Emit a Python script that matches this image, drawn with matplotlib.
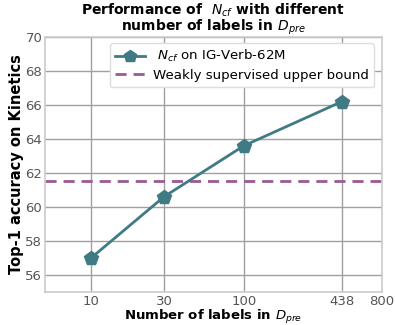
import matplotlib
matplotlib.use("Agg")
import matplotlib.pyplot as plt

num_labels = [10, 30, 100, 438]
acc_ncf = [57.0, 60.6, 63.6, 66.2]
upper_bound = 61.5
xticks = [10, 30, 100, 438, 800]
yticks = [56, 58, 60, 62, 64, 66, 68, 70]

fig = plt.figure(figsize=(3.95, 3.25), dpi=100)
ax = fig.add_axes([0.114, 0.1015, 0.853, 0.785])

ax.plot(num_labels, acc_ncf, color="#3f7a85", lw=2, marker="p", ms=10,
        label=r" $N_{cf}$ on IG-Verb-62M", zorder=3)
ax.axhline(upper_bound, color="#9b5a94", lw=2, ls=(0, (4, 2.5)),
           label="Weakly supervised upper bound", zorder=2)

ax.set_xscale("log")
ax.set_xlim(5, 800)
ax.set_ylim(55, 70)
ax.set_xticks(xticks)
ax.set_xticklabels([str(t) for t in xticks])
ax.xaxis.set_minor_locator(matplotlib.ticker.NullLocator())
ax.set_yticks(yticks)
ax.tick_params(axis="both", labelsize=9.5, labelcolor="#555555", length=0, pad=2)
ax.grid(True, color="#a0a0a0", lw=1)
ax.set_axisbelow(True)
for s in ax.spines.values():
    s.set_color("#cccccc")
    s.set_linewidth(1.2)

ax.set_xlabel(r"Number of labels in $D_{pre}$", fontsize=9.5, fontweight="bold", labelpad=0)
ax.set_ylabel("Top-1 accuracy on Kinetics", fontsize=10.5, fontweight="bold", labelpad=1)
ax.set_title("Performance of  $N_{cf}$ with different\nnumber of labels in $D_{pre}$",
             fontsize=10, fontweight="bold", pad=4, linespacing=0.9)
leg = ax.legend(loc="upper left", bbox_to_anchor=(0.193, 0.976), fontsize=9.6,
                frameon=True, framealpha=1, edgecolor="#dddddd",
                labelspacing=0.35, borderpad=0.4, borderaxespad=0,
                handlelength=2.2, handletextpad=0.6, markerscale=0.9)

fig.savefig("out.png", dpi=100)
